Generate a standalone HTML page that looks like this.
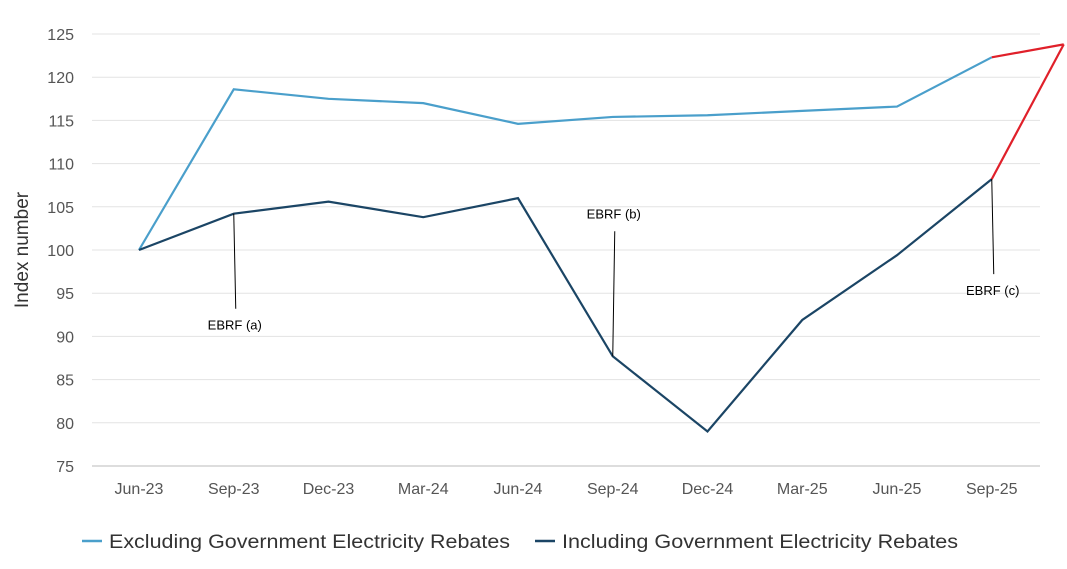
<!DOCTYPE html>
<html><head><meta charset="utf-8"><style>
body{margin:0;background:#fff;font-family:"Liberation Sans",sans-serif}
svg text{font-family:"Liberation Sans",sans-serif}
</style></head><body>
<svg id="chart" width="1067" height="564" xmlns="http://www.w3.org/2000/svg"></svg>
<script>
const categories=["Jun-23","Sep-23","Dec-23","Mar-24","Jun-24","Sep-24","Dec-24","Mar-25","Jun-25","Sep-25"];
const excluding=[100,118.6,117.5,117.0,114.6,115.4,115.6,116.1,116.6,122.3];
const including=[100,104.2,105.6,103.8,106.0,87.7,79.0,91.9,99.4,108.2];
const projectedEnd=123.8;
const yTicks=[75,80,85,90,95,100,105,110,115,120,125];
const annotations=[{label:"EBRF (a)",idx:1,dir:1},{label:"EBRF (b)",idx:5,dir:-1},{label:"EBRF (c)",idx:9,dir:1}];
const NS="http://www.w3.org/2000/svg";
const svg=document.getElementById('chart');
const x=i=>139+i*94.75;
const y=v=>34+(125-v)*8.64;
function mk(t,a,p){const e=document.createElementNS(NS,t);for(const k in a)e.setAttribute(k,a[k]);(p||svg).appendChild(e);return e;}
yTicks.forEach(v=>{
 const g=mk('line',{x1:92,x2:1040,y1:y(v),y2:y(v),stroke:v===75?'#bbb':'#e3e3e3','stroke-width':1});
 
 
 const t=mk('text',{x:74,y:y(v)+6,'text-anchor':'end','font-size':16,fill:'#555'});t.textContent=v;
 
 
});
categories.forEach((c,i)=>{
 const t=mk('text',{x:x(i),y:494,'text-anchor':'middle','font-size':16,fill:'#555'});t.textContent=c;
 
 
});
const yl=mk('text',{transform:'translate(28,250) rotate(-90)','text-anchor':'middle','font-size':19,fill:'#333'});yl.textContent='Index number';


function line(vals,color,name){
 const p=mk('polyline',{points:vals.map((v,i)=>x(i)+','+y(v)).join(' '),fill:'none',stroke:color,'stroke-width':2.2});
 
 
}
line(excluding,'#4a9fcb','excluding-rebates-line');
line(including,'#1b4565','including-rebates-line');
const xe=x(9)+72;
[excluding,including].forEach(s=>{
 const r=mk('line',{x1:x(9),y1:y(s[9]),x2:xe,y2:y(projectedEnd),stroke:'#e0202a','stroke-width':2.2});
 
 
});
annotations.forEach(a=>{
 const px=x(a.idx),py=y(including[a.idx]);
 const ey=a.dir>0?py+95:py-125;
 const l=mk('line',{x1:px,y1:py,x2:px+2,y2:ey,stroke:'#000','stroke-width':1});
 
 
 const t=mk('text',{x:px+1,y:a.dir>0?ey+21:ey-13,'text-anchor':'middle','font-size':13,fill:'#000'});t.textContent=a.label;
 
 
});
[["#4a9fcb","Excluding Government Electricity Rebates",82,401],["#1b4565","Including Government Electricity Rebates",535,396]].forEach(([c,l,lx,w])=>{
 const g=mk('g',{});
 
 
 mk('line',{x1:lx,x2:lx+20,y1:541,y2:541,stroke:c,'stroke-width':2.5},g);
 const t=mk('text',{x:lx+27,y:548,'font-size':19,fill:'#333',textLength:w,lengthAdjust:'spacingAndGlyphs'},g);t.textContent=l;
});
</script>
</body></html>
